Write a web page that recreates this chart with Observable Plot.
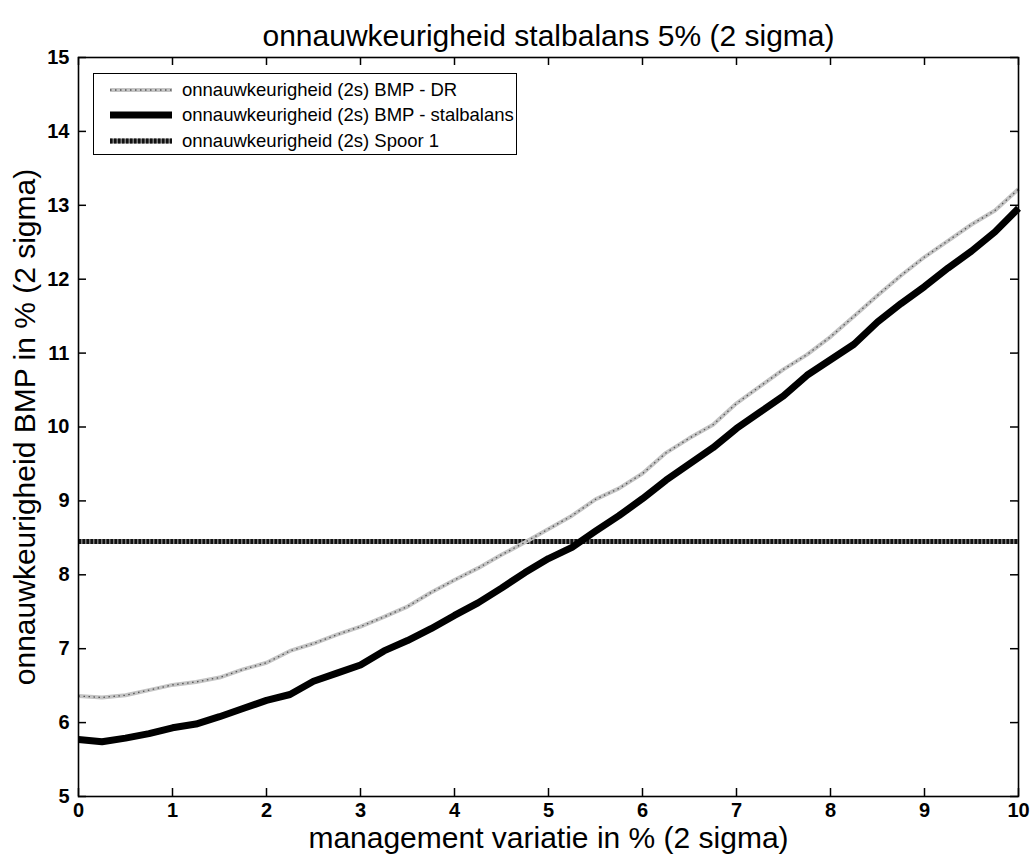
<!DOCTYPE html>
<html>
<head>
<meta charset="utf-8">
<script src="https://cdn.jsdelivr.net/npm/d3@7"></script>
<script src="https://cdn.jsdelivr.net/npm/@observablehq/plot@0.6"></script>
<style>
  body { margin: 0; background: #fff; }
  #chart { position: relative; width: 1036px; height: 854px; font-family: "Liberation Sans", Arial, sans-serif; }
  #legend { position: absolute; left: 93px; top: 73px; width: 424px; height: 82px; box-sizing: border-box;
            border: 1px solid #000; background: #fff; padding-top: 3px; }
  .row { display: flex; align-items: center; height: 25.5px; }
  .row svg { margin-left: 16px; margin-right: 10px; flex: none; }
  .row span { font-size: 18.5px; color: #000; white-space: nowrap; }
</style>
</head>
<body>
<div id="chart"><div id="legend"></div></div>
<script>
// management variation (x, % at 2 sigma)
const mgmtVariatie = [0, 0.25, 0.5, 0.75, 1, 1.25, 1.5, 1.75, 2, 2.25, 2.5, 2.75, 3, 3.25, 3.5, 3.75, 4, 4.25, 4.5, 4.75,
  5, 5.25, 5.5, 5.75, 6, 6.25, 6.5, 6.75, 7, 7.25, 7.5, 7.75, 8, 8.25, 8.5, 8.75, 9, 9.25, 9.5, 9.75, 10];

// uncertainty of BMP via DR
const bmpDR = [6.36, 6.34, 6.37, 6.44, 6.51, 6.55, 6.61, 6.72, 6.81, 6.97, 7.07, 7.19, 7.30, 7.43, 7.57, 7.76, 7.93, 8.09, 8.27, 8.44,
  8.62, 8.80, 9.02, 9.17, 9.37, 9.65, 9.85, 10.03, 10.32, 10.55, 10.78, 10.98, 11.22, 11.50, 11.78, 12.05, 12.30, 12.52, 12.74, 12.93, 13.22];

// uncertainty of BMP via the stable balance
const bmpStalbalans = [5.77, 5.74, 5.79, 5.85, 5.93, 5.98, 6.08, 6.19, 6.30, 6.38, 6.56, 6.67, 6.78, 6.97, 7.11, 7.27, 7.45, 7.62, 7.82, 8.03,
  8.22, 8.37, 8.59, 8.80, 9.03, 9.28, 9.50, 9.72, 9.98, 10.20, 10.42, 10.70, 10.91, 11.12, 11.42, 11.67, 11.90, 12.15, 12.38, 12.64, 12.96];

// Spoor 1 reference level
const spoor1X = [0, 10];
const spoor1Y = [8.45, 8.45];

const xTicks = [0, 1, 2, 3, 4, 5, 6, 7, 8, 9, 10];
const yTicks = [5, 6, 7, 8, 9, 10, 11, 12, 13, 14, 15];

const titleText = "onnauwkeurigheid stalbalans 5% (2 sigma)";
const xLabelText = "management variatie in % (2 sigma)";
const yLabelText = "onnauwkeurigheid BMP in % (2 sigma)";
const legendLabels = [
  "onnauwkeurigheid (2s) BMP - DR",
  "onnauwkeurigheid (2s) BMP - stalbalans",
  "onnauwkeurigheid (2s) Spoor 1"
];

// Tables built from the arrays above
const rows = mgmtVariatie.map((x, i) => ({x, dr: bmpDR[i], stal: bmpStalbalans[i]}));
const spoorRows = spoor1X.map((x, i) => ({x, y: spoor1Y[i]}));

// Line styles: each series is one or more stacked strokes
const styles = [
  [{stroke: "#c4c4c4", strokeWidth: 4}, {stroke: "#555", strokeWidth: 1.3, dash: "1.5,3.5"}],
  [{stroke: "#000", strokeWidth: 7}],
  [{stroke: "#7a7a7a", strokeWidth: 5}, {stroke: "#111", strokeWidth: 5, dash: "2.5,1.5"}]
];

const W = 1036, H = 854;
const mT = 57, mB = 58, mL = 78, mR = 18;
const plotW = W - mL - mR, plotH = H - mT - mB;
const tick = 8;
const labelSize = 30;
const tickLabelSize = 20;

const lineMarks = (data, yKey, st) => st.map(s => Plot.line(data, {
  x: "x", y: yKey, stroke: s.stroke, strokeWidth: s.strokeWidth,
  strokeDasharray: s.dash, strokeLinejoin: "round", strokeLinecap: "butt"
}));

const chart = Plot.plot({
  width: W, height: H,
  marginTop: mT, marginBottom: mB, marginLeft: mL, marginRight: mR,
  x: {domain: [0, 10]},
  y: {domain: [5, 15]},
  style: {fontFamily: "'Liberation Sans', Arial, sans-serif", fontSize: `${tickLabelSize}px`, color: "#000", background: "#fff"},
  marks: [
    ...lineMarks(spoorRows, "y", styles[2]),
    ...lineMarks(rows, "dr", styles[0]),
    ...lineMarks(rows, "stal", styles[1]),
    // inward ticks on all four sides
    Plot.ruleX(xTicks, {x: d => d, insetTop: plotH - tick, stroke: "#000", strokeWidth: 1.5}),
    Plot.ruleX(xTicks, {x: d => d, insetBottom: plotH - tick, stroke: "#000", strokeWidth: 1.5}),
    Plot.ruleY(yTicks, {y: d => d, insetRight: plotW - tick, stroke: "#000", strokeWidth: 1.5}),
    Plot.ruleY(yTicks, {y: d => d, insetLeft: plotW - tick, stroke: "#000", strokeWidth: 1.5}),
    Plot.frame({stroke: "#000", strokeWidth: 1.6}),
    Plot.axisX({ticks: xTicks, tickSize: 0, tickPadding: 6, label: null, fontSize: tickLabelSize, fontWeight: "bold", tickFormat: d => String(d)}),
    Plot.axisY({ticks: yTicks, tickSize: 0, tickPadding: 9, label: null, fontSize: tickLabelSize, fontWeight: "bold", tickFormat: d => String(d)}),
    Plot.text([titleText], {frameAnchor: "top", lineAnchor: "middle", textAnchor: "middle", dy: -21, fontSize: labelSize, fill: "#000"}),
    Plot.text([xLabelText], {frameAnchor: "bottom", lineAnchor: "middle", textAnchor: "middle", dy: 42, fontSize: labelSize, fill: "#000"}),
    Plot.text([yLabelText], {frameAnchor: "left", lineAnchor: "middle", textAnchor: "middle", dx: -53, rotate: -90, fontSize: labelSize, fill: "#000"})
  ]
});

const host = document.getElementById("chart");
host.insertBefore(chart, host.firstChild);

// Legend box in the upper-left of the axes
const legend = d3.select("#legend");
legendLabels.forEach((label, i) => {
  const row = legend.append("div").attr("class", "row");
  const svg = row.append("svg").attr("width", 62).attr("height", 10);
  styles[i].forEach(s => {
    svg.append("line").attr("x1", 0).attr("x2", 62).attr("y1", 5).attr("y2", 5)
      .attr("stroke", s.stroke).attr("stroke-width", s.strokeWidth)
      .attr("stroke-dasharray", s.dash || null);
  });
  row.append("span").text(label);
});
</script>
</body>
</html>
